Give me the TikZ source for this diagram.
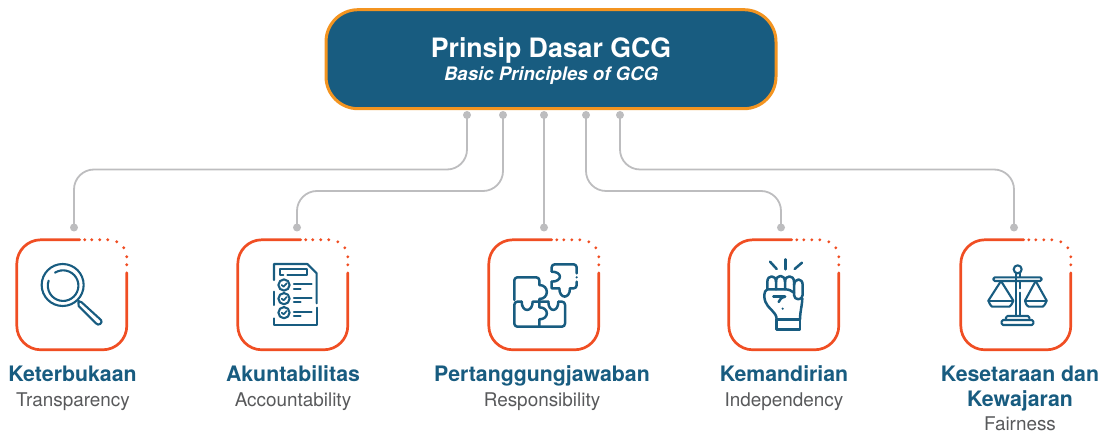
\documentclass[tikz,border=0pt]{standalone}
\usepackage{fontspec}
\setmainfont{TeX Gyre Heros}
\definecolor{teal1}{HTML}{185C80}
\definecolor{orange1}{HTML}{F39420}
\definecolor{red1}{HTML}{F04E23}
\definecolor{gray1}{HTML}{BDBDBF}
\definecolor{gray2}{HTML}{58595B}
\tikzset{
  mainbox/.style={draw=orange1,fill=teal1,line width=3pt,rounded corners=32pt,minimum width=450pt,minimum height=99pt,inner sep=0pt},
  maintxt/.style={inner sep=0pt,align=center,text=white},
  framebox/.style={minimum width=110pt,minimum height=110pt,inner sep=0pt},
  pin/.style={circle,fill=gray1,minimum size=8pt,inner sep=0pt},
  wire/.style={draw=gray1,line width=1.8pt,rounded corners=20pt},
  titletxt/.style={text=teal1,font=\bfseries\fontsize{21.3}{25}\selectfont,align=center,anchor=base,inner sep=0pt},
  subtxt/.style={text=gray2,font=\fontsize{18.9}{20}\selectfont,anchor=base,inner sep=0pt},
  solidline/.style={draw=red1,line width=2.7pt,rounded corners=24pt,line cap=round},
  ic/.style={draw=teal1,line width=2.1pt,line cap=round,line join=round},
  zoomed/.style={x=0.33333pt,y=-0.33333pt},
  pics/frame/.style={code={
    \draw[solidline] (63,0) -- (0,0) -- (0,110) -- (110,110) -- (110,33);
    \foreach \a/\b in {68/0,75/0,83/0,91/0,100/2,107/8,110/17,110/25}
      \fill[red1] (\a,\b) circle[radius=1.6pt];
  }}
}
\begin{document}
\begin{tikzpicture}[x=1pt,y=-1pt]
\useasboundingbox (0,0) rectangle (1104,435);
% main node
\node[mainbox] (main) at (551,59.2) {};
\node[maintxt] (maintext) at (551,61) {{\bfseries\fontsize{26.7}{28}\selectfont Prinsip Dasar GCG}\\[3pt]{\bfseries\itshape\fontsize{18.6}{20}\selectfont Basic Principles of GCG}};
% frames
\node[framebox] (b1) at (72,295) {};
\node[framebox] (b2) at (293,295) {};
\node[framebox] (b3) at (544,295) {};
\node[framebox] (b4) at (784,295) {};
\node[framebox] (b5) at (1016,295) {};
\foreach \n in {b1,b2,b3,b4,b5} \pic at (\n.north west) {frame};
% pins
\foreach \n/\x in {s1/467,s2/503,s3/544,s4/586,s5/620} \node[pin] (\n) at (\x,115) {};
\foreach \n/\x in {e1/74,e2/297,e3/544,e4/781,e5/1014} \node[pin] (\n) at (\x,227.5) {};
\coordinate (hi) at (0,169.5);
\coordinate (lo) at (0,191);
% connectors
\draw[wire] (s1.center) -- (s1 |- hi) -- (e1 |- hi) -- (e1.center);
\draw[wire] (s2.center) -- (s2 |- lo) -- (e2 |- lo) -- (e2.center);
\draw[wire] (s3.center) -- (e3.center);
\draw[wire] (s4.center) -- (s4 |- lo) -- (e4 |- lo) -- (e4.center);
\draw[wire] (s5.center) -- (s5 |- hi) -- (e5 |- hi) -- (e5.center);
% labels
\node[titletxt] (t1) at (72.5,381.5) {Keterbukaan};
\node[subtxt] (u1) at (73,406.5) {Transparency};
\node[titletxt] (t2) at (293,381.5) {Akuntabilitas};
\node[subtxt] (u2) at (293,406.5) {Accountability};
\node[titletxt] (t3) at (542,381.5) {Pertanggungjawaban};
\node[subtxt] (u3) at (542,406.5) {Responsibility};
\node[titletxt] (t4) at (784,381.5) {Kemandirian};
\node[subtxt] (u4) at (784,406.5) {Independency};
\node[titletxt] (t5a) at (1020,381.5) {Kesetaraan dan};
\node[titletxt] (t5b) at (1020,406.5) {Kewajaran};
\node[subtxt] (u5) at (1020,431) {Fairness};
% magnifier
\begin{scope}[shift={(0,225)},zoomed]
\draw[ic] (188,180) circle[radius=21pt];
\draw[ic] (165,143) arc[start angle=122,end angle=-199,radius=15.3pt];
\draw[ic] (235,228) -- (245,232) -- (303,285) .. controls (310,293) and (295,305) .. (288,295) -- (236,243) -- cycle;
\end{scope}
% document
\begin{scope}[shift={(0,225)},zoomed]
\draw[ic] (822,165) -- (822,117) -- (922,117) -- (950,145) -- (950,235);
\draw[ic] (950,248) -- (950,300) -- (822,300) -- (822,280);
\draw[ic] (822,200) -- (822,240);
\draw[ic] (862,150) -- (922,150) -- (922,132) -- (840,132) -- (840,150) -- (850,150);
\foreach \y in {180,221,263}{
  \draw[ic] (852,\y) circle[radius=5.6pt];
  \draw[ic,line width=1.7pt] (845,\y) -- (851,\y+5) -- (860,\y-5);
  \draw[ic] (882,\y-3) -- (935,\y-3);
  \draw[ic] (882,\y+11) -- (902,\y+11);
}
\end{scope}
% puzzle
\begin{scope}[shift={(480,230)},zoomed,ic/.append style={line width=2.5pt}]
\draw[ic,rounded corners=3pt] (103,210) -- (103,142) -- (178,142) -- (178,165);
\draw[ic] (178,165) .. controls (208,165) and (208,207) .. (178,207) -- (178,212);
\draw[ic,rounded corners=3pt] (125,215) -- (103,215) -- (103,290) -- (255,290) -- (255,215) -- (235,215);
\draw[ic] (125,215) .. controls (125,248) and (158,248) .. (158,215) -- (205,215);
\draw[ic] (205,215) .. controls (205,248) and (235,248) .. (235,215);
\draw[ic] (178,215) -- (178,232) .. controls (208,232) and (208,268) .. (178,268) -- (178,290);
\draw[ic,rounded corners=3pt] (215,125) -- (215,103) -- (290,103) -- (290,130);
\fill[teal1] (290,142) circle[radius=1.2pt];
\draw[ic,rounded corners=3pt] (290,155) -- (290,175) -- (270,175);
\draw[ic] (270,175) .. controls (270,208) and (238,208) .. (238,175) -- (215,175) -- (215,155);
\draw[ic] (215,155) .. controls (248,155) and (248,125) .. (215,125);
\end{scope}
% fist
\begin{scope}[shift={(720,230)},zoomed,ic/.append style={line width=2.5pt}]
\draw[ic] (150,95) -- (170,117);
\draw[ic] (197,88) -- (197,118);
\draw[ic] (224,117) -- (246,98);
% fingers
\draw[ic] (142,178) -- (142,155) .. controls (142,134) and (168,134) .. (168,155) -- (168,178);
\draw[ic] (168,155) .. controls (168,132) and (195,132) .. (195,155) -- (195,178);
\draw[ic] (195,155) .. controls (195,134) and (222,134) .. (222,155) -- (222,188);
\draw[ic] (222,165) .. controls (224,143) and (248,143) .. (248,165) -- (248,195) .. controls (248,212) and (222,212) .. (222,195) -- (222,188);
\draw[ic] (142,178) -- (195,178) .. controls (207,178) and (214,182) .. (222,188);
% palm
\draw[ic] (142,178) .. controls (130,182) and (132,205) .. (136,215) .. controls (142,235) and (170,245) .. (170,268);
\draw[ic] (247,205) .. controls (246,230) and (240,245) .. (240,268);
% thumb
\draw[ic] (160,200) -- (195,200);
\draw[ic] (195,200) .. controls (183,203) and (180,208) .. (176,216);
\fill[teal1] (188,236) circle[radius=1.2pt];
\draw[ic] (170,268) rectangle (240,298);
\end{scope}
% scales
\begin{scope}[shift={(950,230)},zoomed]
\draw[ic] (203,118) circle[radius=4pt];
\draw[ic,rounded corners=1.5pt] (130,142) rectangle (275,153);
\draw[ic] (197,130) -- (197,258);
\draw[ic] (209,130) -- (209,140);
\draw[ic] (209,156) -- (209,175);
\draw[ic] (209,188) -- (209,258);
\draw[ic,rounded corners=1.5pt] (168,270) -- (168,258) -- (238,258) -- (238,270);
\draw[ic,rounded corners=1.5pt] (155,270) rectangle (250,285);
\draw[ic] (153,153) -- (115,212);
\draw[ic] (153,153) -- (190,212);
\draw[ic] (118,213) -- (188,213);
\draw[ic,rounded corners=2pt] (115,212) .. controls (120,225) and (125,230) .. (132,230) -- (172,230) .. controls (180,230) and (185,225) .. (190,212);
\draw[ic] (257,153) -- (225,212);
\draw[ic] (257,153) -- (290,212);
\draw[ic] (228,213) -- (288,213);
\draw[ic,rounded corners=2pt] (225,212) .. controls (228,225) and (233,230) .. (242,230) -- (272,230) .. controls (280,230) and (285,225) .. (290,212);
\end{scope}
\end{tikzpicture}
\end{document}
